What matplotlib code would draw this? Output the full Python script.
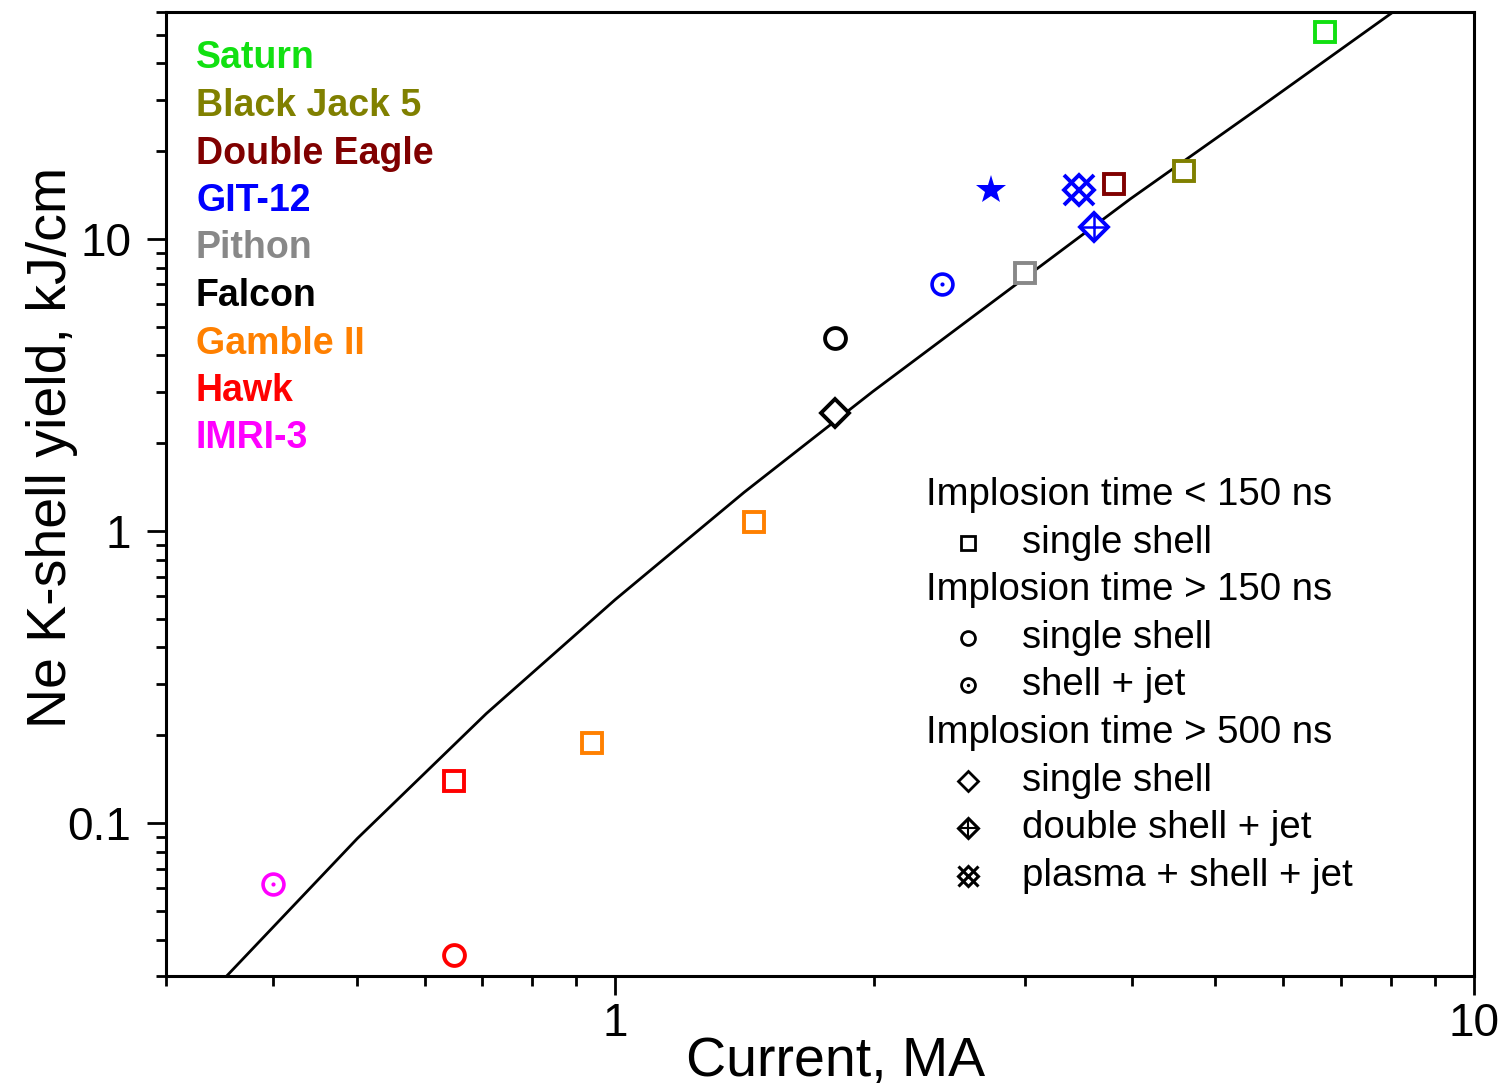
import matplotlib
matplotlib.use('Agg')
import matplotlib.pyplot as plt

plt.rcParams['font.family'] = ['Liberation Sans', 'DejaVu Sans']

# ---------------- data ----------------
fit_current = [0.353, 0.501, 0.708, 1.0, 1.413, 1.995, 2.818, 3.981, 5.623, 8.05]
fit_yield = [0.030, 0.0887, 0.2375, 0.583, 1.359, 3.008, 6.43, 13.75, 28.2, 60.0]

machines = ["Saturn", "Black Jack 5", "Double Eagle", "GIT-12", "Pithon",
            "Falcon", "Gamble II", "Hawk", "IMRI-3"]
machine_colors = ["#11e011", "#808000", "#800000", "#0000ff", "#888888",
                  "#000000", "#ff8000", "#ff0000", "#ff00ff"]

# Implosion time < 150 ns, single shell (squares)
sq_machine = ["Saturn", "Black Jack 5", "Double Eagle", "Pithon",
              "Gamble II", "Gamble II", "Hawk"]
sq_current = [6.70, 4.60, 3.81, 3.00, 1.45, 0.94, 0.65]
sq_yield = [51.4, 17.1, 15.4, 7.67, 1.08, 0.189, 0.14]

# Implosion time > 150 ns, single shell (circles)
ci_machine = ["Falcon", "Hawk"]
ci_current = [1.805, 0.65]
ci_yield = [4.58, 0.0354]

# Implosion time > 150 ns, shell + jet (circle with dot)
cd_machine = ["GIT-12", "IMRI-3"]
cd_current = [2.405, 0.40]
cd_yield = [7.03, 0.0622]

# Implosion time > 500 ns, single shell (diamond)
di_machine = ["Falcon"]
di_current = [1.805]
di_yield = [2.55]

# double shell + jet (diamond with plus)
dp_machine = ["GIT-12"]
dp_current = [3.61]
dp_yield = [11.04]

# plasma + shell + jet (diamond with cross)
dx_machine = ["GIT-12"]
dx_current = [3.47]
dx_yield = [14.8]

# star
st_machine = ["GIT-12"]
st_current = [2.74]
st_yield = [14.8]

x_major = [1, 10]
x_major_labels = ["1", "10"]
x_minor = [0.3, 0.4, 0.5, 0.6, 0.7, 0.8, 0.9, 2, 3, 4, 5, 6, 7, 8, 9]
y_major = [0.1, 1, 10]
y_major_labels = ["0.1", "1", "10"]
y_minor = [0.03, 0.04, 0.05, 0.06, 0.07, 0.08, 0.09,
           0.2, 0.3, 0.4, 0.5, 0.6, 0.7, 0.8, 0.9,
           2, 3, 4, 5, 6, 7, 8, 9, 20, 30, 40, 50, 60]

legend_rows = [
    ("header", "Implosion time < 150 ns"),
    ("s", "single shell"),
    ("header", "Implosion time > 150 ns"),
    ("o", "single shell"),
    ("od", "shell + jet"),
    ("header", "Implosion time > 500 ns"),
    ("D", "single shell"),
    ("D+", "double shell + jet"),
    ("Dx", "plasma + shell + jet"),
]

# ---------------- figure ----------------
W, H = 1505, 1089
fig = plt.figure(figsize=(W / 100, H / 100), dpi=100)
L, R, T, B = 166, 1474, 12, 976
ax = fig.add_axes([L / W, 1 - B / H, (R - L) / W, (B - T) / H])


def fx(px):
    return (px - L) / (R - L)


def fy(py):
    return (B - py) / (B - T)


col = dict(zip(machines, machine_colors))

ax.set_xscale('log')
ax.set_yscale('log')
ax.set_xlim(0.3, 10)
ax.set_ylim(0.03, 60)

ax.plot(fit_current, fit_yield, color='black', lw=2.0, zorder=2,
        solid_joinstyle='round')

SQ_MS, SQ_MEW = 14, 2.8
for m, x, y in zip(sq_machine, sq_current, sq_yield):
    ax.plot(x, y, 's', mfc='white', mec=col[m], ms=SQ_MS, mew=SQ_MEW, zorder=3)
for m, x, y in zip(ci_machine, ci_current, ci_yield):
    ax.plot(x, y, 'o', mfc='white', mec=col[m], ms=15, mew=2.8, zorder=3)
for m, x, y in zip(cd_machine, cd_current, cd_yield):
    ax.plot(x, y, 'o', mfc='white', mec=col[m], ms=15, mew=2.6, zorder=3)
    ax.plot(x, y, 'o', color=col[m], ms=3, mew=0, zorder=4)
for m, x, y in zip(di_machine, di_current, di_yield):
    ax.plot(x, y, 'D', mfc='white', mec=col[m], ms=14, mew=2.8, zorder=3)
for m, x, y in zip(dp_machine, dp_current, dp_yield):
    ax.plot(x, y, 'D', mfc='white', mec=col[m], ms=14, mew=2.8, zorder=3)
    ax.plot(x, y, '+', color=col[m], ms=19.5, mew=1.8, zorder=4)
for m, x, y in zip(dx_machine, dx_current, dx_yield):
    ax.plot(x, y, 'D', mfc='none', mec=col[m], ms=15, mew=2.8, zorder=3)
    ax.plot(x, y, 'x', color=col[m], ms=21, mew=2.8, zorder=4)
for m, x, y in zip(st_machine, st_current, st_yield):
    ax.plot(x, y, '*', color=col[m], ms=22, mew=0, zorder=3)

# ticks
ax.set_xticks(x_major, labels=x_major_labels)
ax.set_xticks(x_minor, minor=True, labels=[''] * len(x_minor))
ax.set_yticks(y_major, labels=y_major_labels)
ax.set_yticks(y_minor, minor=True, labels=[''] * len(y_minor))
ax.tick_params(which='both', direction='out', width=2.0, top=False, right=False)
ax.tick_params(which='major', length=14, labelsize=33)
ax.tick_params(which='minor', length=7.5)
ax.tick_params(axis='x', which='major', pad=5)
ax.tick_params(axis='y', which='major', pad=11)
for sp in ax.spines.values():
    sp.set_linewidth(2.2)

# axis labels
fig.text(836 / W, 1 - 1076 / H, "Current, MA", fontsize=40, ha='center', va='baseline')
fig.text(52 / W, 1 - 447 / H, "Ne K-shell yield, kJ/cm", fontsize=40,
         rotation=90, ha='center', va='center')

# machine color key (top left)
base0, step = 68.5, 47.5
for i, (m, c) in enumerate(zip(machines, machine_colors)):
    ax.text(fx(196), fy(base0 + i * step), m, color=c, fontsize=27,
            fontweight='bold', ha='left', va='baseline', transform=ax.transAxes)

# symbol key (lower right)
lb0, lstep = 505, 47.6
for i, (kind, label) in enumerate(legend_rows):
    yb = lb0 + i * lstep
    if kind == 'header':
        ax.text(fx(926), fy(yb), label, fontsize=27.6, ha='left', va='baseline',
                transform=ax.transAxes)
        continue
    ax.text(fx(1022), fy(yb), label, fontsize=27.6, ha='left', va='baseline',
            transform=ax.transAxes)
    mx, my = fx(968), fy(yb - 10)
    kw = dict(transform=ax.transAxes, clip_on=False, zorder=5)
    if kind == 's':
        ax.plot(mx, my, 's', mfc='white', mec='black', ms=9.5, mew=2.0, **kw)
    elif kind == 'o':
        ax.plot(mx, my, 'o', mfc='white', mec='black', ms=10, mew=2.0, **kw)
    elif kind == 'od':
        ax.plot(mx, my, 'o', mfc='white', mec='black', ms=10, mew=2.0, **kw)
        ax.plot(mx, my, 'o', color='black', ms=2.5, mew=0, **kw)
    elif kind == 'D':
        ax.plot(mx, my, 'D', mfc='white', mec='black', ms=10, mew=2.0, **kw)
    elif kind == 'D+':
        ax.plot(mx, my, 'D', mfc='white', mec='black', ms=10, mew=2.2, **kw)
        ax.plot(mx, my, '+', color='black', ms=14, mew=1.5, **kw)
    elif kind == 'Dx':
        ax.plot(mx, my, 'D', mfc='none', mec='black', ms=10.5, mew=2.2, **kw)
        ax.plot(mx, my, 'x', color='black', ms=14.5, mew=2.2, **kw)

fig.savefig('out.png', dpi=100)
